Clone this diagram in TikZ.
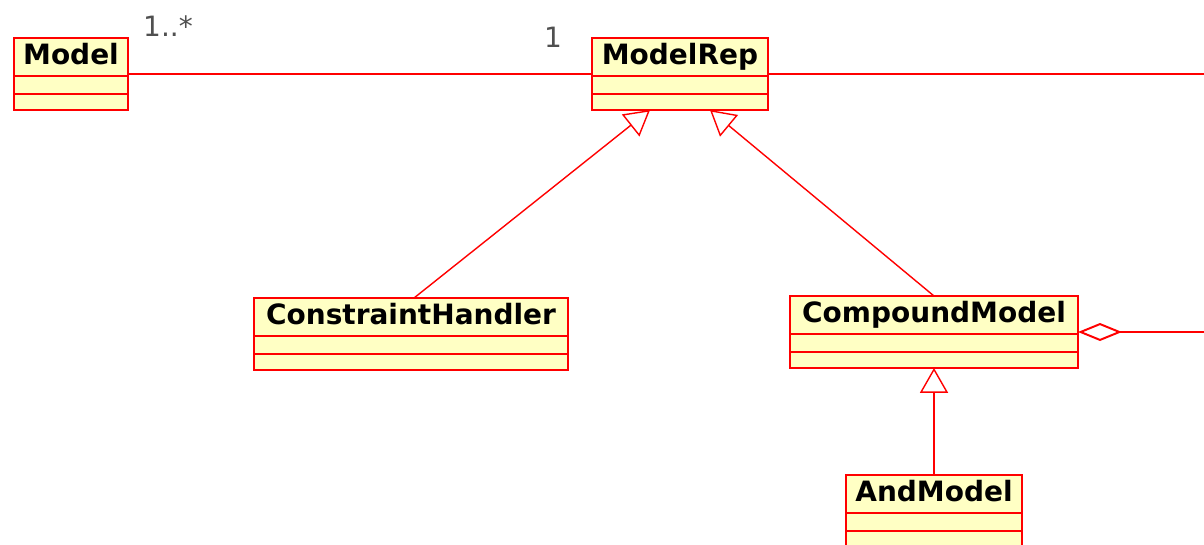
\documentclass[tikz,border=0pt]{standalone}
\usepackage{fontspec}
\usepackage{tikz}
\usetikzlibrary{arrows.meta,positioning,calc}
\newfontfamily\umlfont{DejaVu Sans}
\definecolor{classfill}{RGB}{255,255,196}
\definecolor{multgray}{RGB}{80,80,80}

\begin{document}
\begin{tikzpicture}[
    cname/.style={draw=red, fill=classfill, line width=1.4pt, outer sep=0pt, minimum height=0.95cm,
        text height=15.3pt, text depth=4.6pt, font=\umlfont\bfseries\fontsize{19.9}{24}\selectfont},
    comp/.style={draw=red, fill=classfill, line width=1.4pt, outer sep=0pt, inner sep=0pt},
    mult/.style={anchor=base, text=multgray, font=\umlfont\fontsize{19.9}{24}\selectfont},
    assoc/.style={red, line width=1.4pt},
    gen/.style={-{Triangle[open, fill=white, length=0.62cm, width=0.7cm]}, red, line width=1pt},
    agg/.style={{Diamond[open, fill=white, length=1.1cm, width=0.45cm]}-, red, line width=1.4pt}
]
\useasboundingbox (0,0) rectangle (30.1,-13.625);

\node[cname, minimum width=2.85cm] (model) at (1.775,-1.425) {Model};
\node[comp, minimum width=2.85cm, minimum height=0.45cm, below=0pt of model] (model2) {};
\node[comp, minimum width=2.85cm, minimum height=0.4cm, below=0pt of model2] (model3) {};

\node[cname, minimum width=4.4cm] (modelrep) at (17,-1.425) {ModelRep};
\node[comp, minimum width=4.4cm, minimum height=0.45cm, below=0pt of modelrep] (mr2) {};
\node[comp, minimum width=4.4cm, minimum height=0.4cm, below=0pt of mr2] (mr3) {};

\node[cname, minimum width=7.85cm] (handler) at (10.275,-7.925) {ConstraintHandler};
\node[comp, minimum width=7.85cm, minimum height=0.45cm, below=0pt of handler] (ch2) {};
\node[comp, minimum width=7.85cm, minimum height=0.4cm, below=0pt of ch2] (ch3) {};

\node[cname, minimum width=7.2cm] (compound) at (23.35,-7.875) {CompoundModel};
\node[comp, minimum width=7.2cm, minimum height=0.45cm, below=0pt of compound] (cm2) {};
\node[comp, minimum width=7.2cm, minimum height=0.4cm, below=0pt of cm2] (cm3) {};

\node[cname, minimum width=4.4cm] (andmodel) at (23.35,-12.35) {AndModel};
\node[comp, minimum width=4.4cm, minimum height=0.45cm, below=0pt of andmodel] (am2) {};
\node[comp, minimum width=4.4cm, minimum height=0.4cm, below=0pt of am2] (am3) {};

\node[mult] (manyrep) at (4.2,-0.9) {1..*};
\node[mult] (onerep) at (13.825,-1.175) {1};

\coordinate (modelmid) at ($(model.north east)!0.5!(model3.south east)$);
\coordinate (mrwest) at ($(modelrep.north west)!0.5!(mr3.south west)$);
\coordinate (mreast) at ($(modelrep.north east)!0.5!(mr3.south east)$);
\coordinate (cmeast) at ($(compound.north east)!0.5!(cm3.south east)$);
\coordinate (mrout) at (30.2,-1.85);
\coordinate (cmout) at (30.2,-8.3);

\draw[assoc] (modelmid) -- (mrwest);
\draw[assoc] (mreast) -- (mrout);
\draw[gen] ([xshift=0.075cm]handler.north) -- ([xshift=-0.75cm]mr3.south);
\draw[gen] (compound.north) -- ([xshift=0.75cm]mr3.south);
\draw[gen] (andmodel.north) -- (cm3.south);
\draw[agg] (cmeast) -- (cmout);
\end{tikzpicture}
\end{document}
